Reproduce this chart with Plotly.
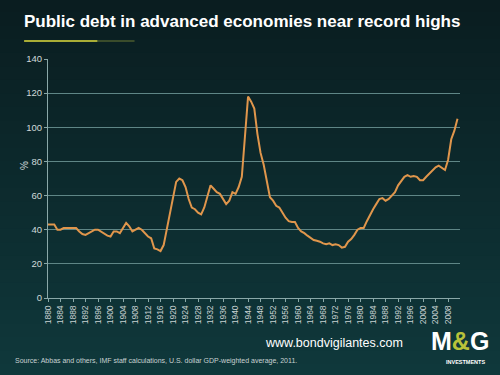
import plotly.graph_objects as go

years = list(range(1880, 2012))
debt = [43, 43, 43, 40, 40, 41, 41, 41, 41, 41,
        39, 37.5, 37, 38, 39, 40, 40, 39, 38, 36.5,
        36, 39, 39, 38, 41, 44, 42, 39, 40, 41,
        40, 38, 36, 35, 29, 28.5, 27.5, 31, 40, 50,
        59, 68, 70, 69, 65, 58, 53, 52, 50, 49,
        53, 60, 66, 64, 62, 61, 58, 55, 57, 62,
        61, 65, 71, 95, 118, 115, 111, 96, 85, 78,
        69, 59, 57, 54, 53, 50, 47, 45, 44.5, 44.5,
        41, 39, 38, 36.5, 35, 34, 33.5, 33, 32, 31.5,
        32, 31, 31.5, 31, 29.5, 30, 33, 34.5, 37, 40,
        41, 41, 45, 49, 52, 55, 58, 58.5, 57, 58,
        60, 62, 66, 68.5, 71, 72, 71, 71.5, 71, 69,
        69, 71, 73, 74.5, 76.5, 77.5, 76, 75, 81, 93,
        98, 105]
tick_years = list(range(1880, 2012, 4))
y_ticks = [0, 20, 40, 60, 80, 100, 120, 140]

fig = go.Figure()
fig.add_trace(go.Scatter(x=years, y=debt, mode="lines",
                         line=dict(color="#e0964c", width=2), hoverinfo="skip"))

# background vertical gradient
shapes = []
n = 30
top = (10, 28, 32)
bot = (16, 58, 60)
for i in range(n):
    t = i / (n - 1)
    c = tuple(int(top[k] + (bot[k] - top[k]) * t) for k in range(3))
    shapes.append(dict(type="rect", xref="paper", yref="paper", layer="below",
                       x0=-0.2, x1=1.2, y0=1.3 - (i + 1) * 1.7 / n, y1=1.3 - i * 1.7 / n + 0.01,
                       fillcolor="rgb(%d,%d,%d)" % c, line=dict(width=0)))
# title underline
shapes.append(dict(type="line", xref="paper", yref="paper", x0=-0.058, x1=0.12,
                   y0=1.075, y1=1.075, line=dict(color="#a9ad36", width=2)))
shapes.append(dict(type="line", xref="paper", yref="paper", x0=0.12, x1=0.21,
                   y0=1.075, y1=1.075, line=dict(color="rgba(150,160,60,0.35)", width=2)))

fig.update_layout(
    width=500, height=375,
    margin=dict(l=48, r=40, t=59, b=77),
    paper_bgcolor="#0d2a2e",
    plot_bgcolor="rgba(0,0,0,0)",
    showlegend=False,
    shapes=shapes,
    font=dict(family="Liberation Sans, Arial, sans-serif", color="#d0dada"),
    xaxis=dict(range=[1880, 2011.8], tickmode="array", tickvals=tick_years,
               ticktext=[str(y) for y in tick_years], tickangle=-90,
               tickfont=dict(size=8.5, color="#c8d2d2"),
               showgrid=False, zeroline=False, showline=True,
               linecolor="#8aa8a8", linewidth=1, ticks="outside",
               ticklen=3, tickcolor="#8aa8a8"),
    yaxis=dict(range=[0, 140], tickvals=y_ticks, tickfont=dict(size=9.5, color="#d0dada"),
               showgrid=True, gridcolor="#5f8686", gridwidth=1, zeroline=False,
               showline=True, linecolor="#8aa8a8", linewidth=1,
               ticks="outside", ticklen=3, tickcolor="#8aa8a8"),
    annotations=[
        dict(text="<b>Public debt in advanced economies near record highs</b>",
             xref="paper", yref="paper", x=-0.063, y=1.155, xanchor="left", yanchor="middle",
             showarrow=False, font=dict(size=17, color="white",
                                        family="Liberation Sans, Arial, sans-serif")),
        dict(text="%", xref="paper", yref="paper", x=-0.075, y=0.555, textangle=-90,
             showarrow=False, font=dict(size=10, color="#d0dada")),
        dict(text="www.bondvigilantes.com", xref="paper", yref="paper", x=0.521, y=-0.19,
             xanchor="left", yanchor="middle", showarrow=False,
             font=dict(size=12.5, color="white")),
        dict(text="Source: Abbas and others, IMF staff calculations, U.S. dollar GDP-weighted average, 2011.",
             xref="paper", yref="paper", x=-0.085, y=-0.265, xanchor="left", yanchor="middle",
             showarrow=False, font=dict(size=7, color="#c8d2d2")),
        dict(text="<b>M<span style='color:#b8c23a'>&</span>G</b>", xref="paper", yref="paper",
             x=1.0, y=-0.18, xanchor="center", yanchor="middle", showarrow=False,
             font=dict(size=25, color="white", family="Liberation Sans, Arial, sans-serif")),
        dict(text="<b>INVESTMENTS</b>", xref="paper", yref="paper", x=1.066, y=-0.268,
             xanchor="right", yanchor="middle", showarrow=False,
             font=dict(size=5.5, color="white")),
    ],
)

fig.write_html("out.html", config={"displayModeBar": False},
               post_script="document.body.style.margin='0';document.body.style.background='#0d2a2e';")
